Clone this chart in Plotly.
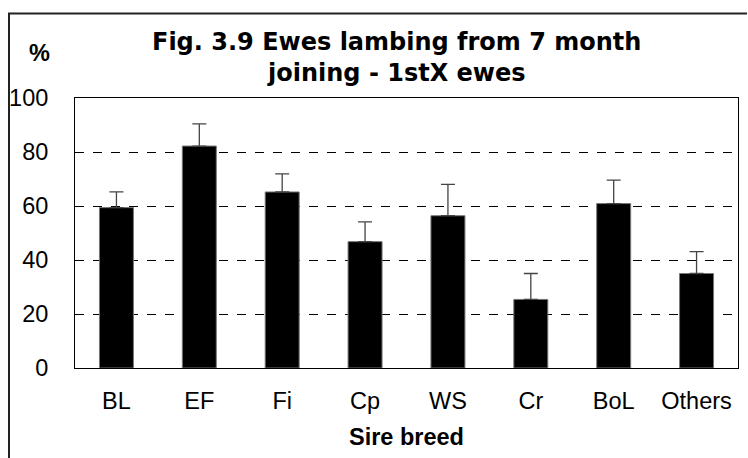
import plotly.graph_objects as go

categories = ["BL", "EF", "Fi", "Cp", "WS", "Cr", "BoL", "Others"]
values = [59.4, 82.2, 65.2, 46.8, 56.4, 25.4, 60.9, 35.0]
errors_plus = [5.8, 8.2, 6.7, 7.3, 11.6, 9.6, 8.7, 8.1]
y_ticks = [0, 20, 40, 60, 80, 100]
title_lines = ["Fig. 3.9 Ewes lambing from 7 month", "joining - 1stX ewes"]

W, H = 748, 458
ml, mr, mt, mb = 75, 10, 98, 90
pw, ph = W - ml - mr, H - mt - mb

def px(x):
    return (x - ml) / pw

def py(y):
    return (H - mb - y) / ph

fig = go.Figure()
fig.add_trace(go.Bar(
    x=categories, y=values,
    marker=dict(color="black", line=dict(color="#777777", width=1)),
    error_y=dict(type="data", symmetric=False, array=errors_plus,
                 arrayminus=[0] * len(values), color="#444444",
                 thickness=1.3, width=7),
    width=0.41,
))

font_family = "Liberation Sans, Arial, sans-serif"
title_font = "DejaVu Sans, Liberation Sans, sans-serif"
frame_line = dict(color="#222222", width=2)
fig.update_layout(
    width=W, height=H,
    margin=dict(l=ml, r=mr, t=mt, b=mb, autoexpand=False),
    paper_bgcolor="white", plot_bgcolor="white",
    showlegend=False,
    font=dict(family=font_family, color="black", size=23.5),
    xaxis=dict(showline=True, linecolor="black", linewidth=1, mirror=True,
               ticks="outside", ticklen=12, tickcolor="rgba(0,0,0,0)",
               tickfont=dict(size=23.5), automargin=False,
               title=dict(text="<b>Sire breed</b>", font=dict(size=23.5), standoff=15),
               showgrid=False),
    yaxis=dict(range=[0, 100], tickvals=y_ticks, showline=True, linecolor="black",
               linewidth=1, mirror=True, ticks="outside", ticklen=21,
               tickcolor="rgba(0,0,0,0)", tickfont=dict(size=23.5), automargin=False,
               showgrid=True, gridcolor="black", gridwidth=1, griddash="dash",
               zeroline=False),
    shapes=[
        dict(type="line", xref="paper", yref="paper",
             x0=px(9), x1=px(9), y0=py(470), y1=py(13), line=frame_line),
        dict(type="rect", xref="paper", yref="paper",
             x0=px(8), x1=px(747), y0=py(14.5), y1=py(12.5),
             fillcolor="#222222", line=dict(width=0)),
    ],
    annotations=[
        dict(text="<b>%</b>", xref="paper", yref="paper",
             x=px(39.5), y=py(53), xanchor="center", yanchor="middle",
             showarrow=False, font=dict(size=23.5)),
        dict(text="<b>" + title_lines[0] + "</b>", xref="paper", yref="paper",
             x=px(396), y=py(42), xanchor="center", yanchor="middle",
             showarrow=False, font=dict(size=24, family=title_font)),
        dict(text="<b>" + title_lines[1] + "</b>", xref="paper", yref="paper",
             x=px(396), y=py(73), xanchor="center", yanchor="middle",
             showarrow=False, font=dict(size=24, family=title_font)),
    ],
)

fig.write_html("out.html", config={"displayModeBar": False},
               post_script="document.body.style.margin='0';")
